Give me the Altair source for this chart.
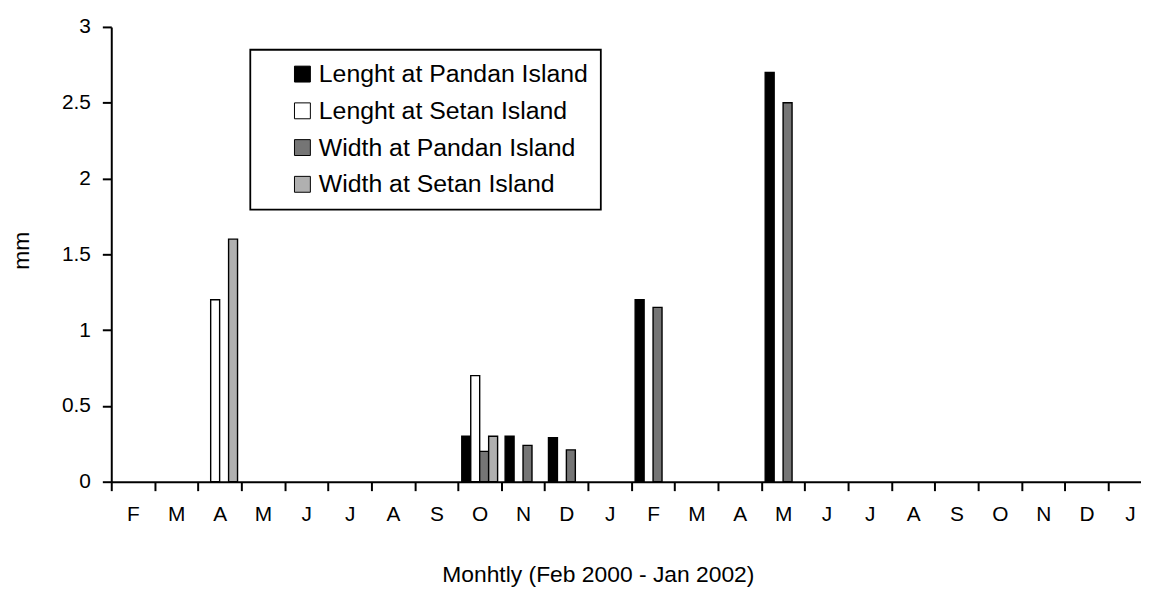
import altair as alt
import pandas as pd

# month categories (Feb 2000 - Jan 2002); the axis shows the first letter of each
months = ["Feb 2000", "Mar 2000", "Apr 2000", "May 2000", "Jun 2000", "Jul 2000",
          "Aug 2000", "Sep 2000", "Oct 2000", "Nov 2000", "Dec 2000", "Jan 2001",
          "Feb 2001", "Mar 2001", "Apr 2001", "May 2001", "Jun 2001", "Jul 2001",
          "Aug 2001", "Sep 2001", "Oct 2001", "Nov 2001", "Dec 2001", "Jan 2002"]

series = ["Lenght at Pandan Island", "Lenght at Setan Island",
          "Width at Pandan Island", "Width at Setan Island"]
fills = ["#000000", "#ffffff", "#757575", "#b0b0b0"]

bar_month = ["Apr 2000", "Apr 2000",
             "Oct 2000", "Oct 2000", "Oct 2000", "Oct 2000",
             "Nov 2000", "Nov 2000",
             "Dec 2000", "Dec 2000",
             "Feb 2001", "Feb 2001",
             "May 2001", "May 2001"]
bar_series = [series[1], series[3],
              series[0], series[1], series[2], series[3],
              series[0], series[2],
              series[0], series[2],
              series[0], series[2],
              series[0], series[2]]
bar_value = [1.2, 1.6,
             0.3, 0.7, 0.2, 0.3,
             0.3, 0.24,
             0.29, 0.21,
             1.2, 1.15,
             2.7, 2.5]

y_ticks = [0, 0.5, 1, 1.5, 2, 2.5, 3]

df = pd.DataFrame({"month": bar_month, "series": bar_series, "value": bar_value})

FONT = "Liberation Sans"

chart = alt.Chart(df).mark_bar(stroke="black", strokeWidth=1.4).encode(
    x=alt.X("month:N", sort=months,
            scale=alt.Scale(domain=months, range=[0, 1047.6], paddingInner=0, paddingOuter=0),
            axis=alt.Axis(title="Monhtly (Feb 2000 - Jan 2002)",
                          labelExpr="isString(datum.value) ? substring(datum.value, 0, 1) : ''",
                          labelAngle=0, tickBand="extent", tickSize=9,
                          labelPadding=13, labelFontSize=21, titleFontSize=23,
                          titleX=490, titleY=93, titleAlign="center",
                          titleBaseline="middle", labelOverlap=False)),
    xOffset=alt.XOffset("series:N", sort=series,
                        scale=alt.Scale(domain=series, paddingInner=0, paddingOuter=0.42)),
    y=alt.Y("value:Q", scale=alt.Scale(domain=[0, 3]),
            axis=alt.Axis(title="mm", values=y_ticks, format=".1~f", grid=False,
                          tickSize=9, labelPadding=12, labelFontSize=21,
                          titleFontSize=23, titleX=-90, titleY=225,
                          titleAlign="center", titleBaseline="middle", titleAngle=270)),
    color=alt.Color("series:N", sort=series,
                    scale=alt.Scale(domain=series, range=fills),
                    legend=alt.Legend(title=None, orient="none", legendX=140, legendY=23,
                                      direction="vertical", strokeColor="black",
                                      fillColor="white", padding=12, symbolOffset=28,
                                      symbolType="square", symbolSize=256,
                                      symbolStrokeColor="black", symbolStrokeWidth=1,
                                      labelFontSize=25, labelOffset=4, labelLimit=500,
                                      rowPadding=11)),
).properties(
    width=1037, height=458,
    autosize=alt.AutoSizeParams(type="none"),
    padding={"left": 104, "top": 17, "right": 0, "bottom": 107},
).configure(
    font=FONT,
).configure_axis(
    domainColor="black", domainWidth=2, tickColor="black", tickWidth=2,
    labelColor="black", titleColor="black", titleFontWeight="normal",
    labelFont=FONT, titleFont=FONT,
).configure_legend(
    labelColor="black", labelFont=FONT, strokeWidth=1.8,
).configure_view(strokeWidth=0)

chart.save("out.html", embed_options={"renderer": "svg", "actions": False})
